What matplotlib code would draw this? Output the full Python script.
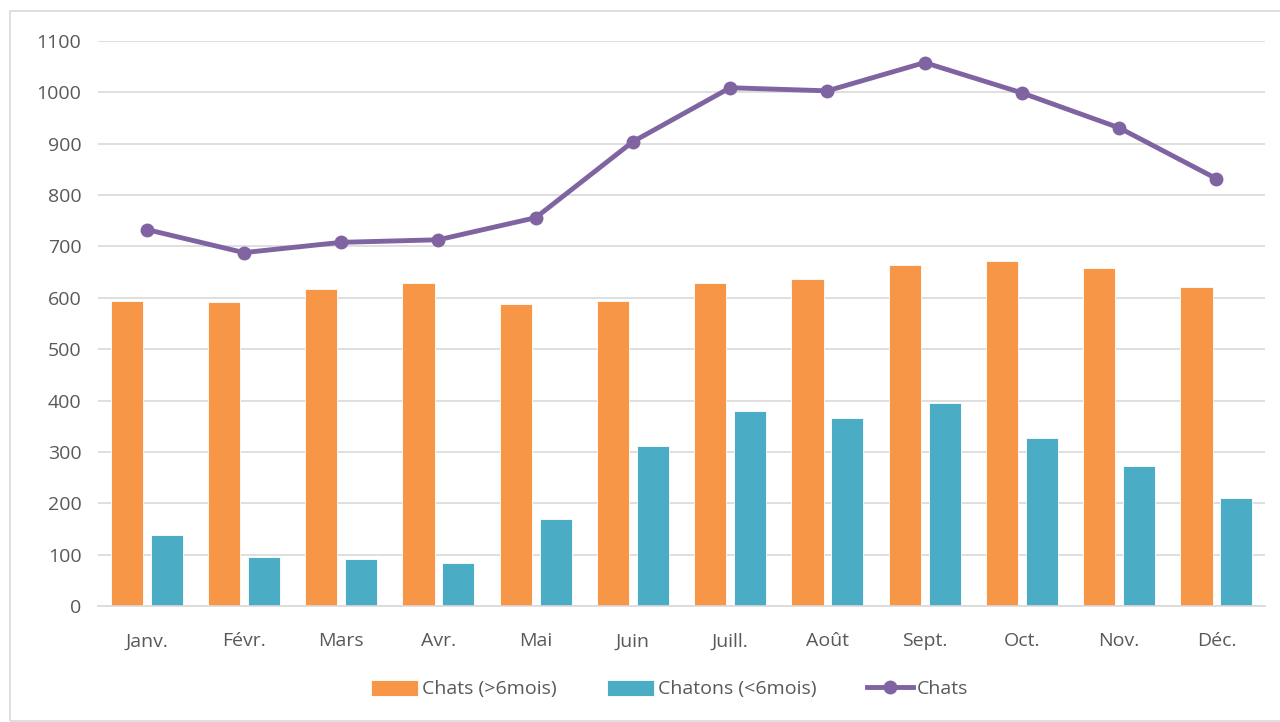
import matplotlib.pyplot as plt
import numpy as np
from matplotlib.patches import Rectangle

plt.rcParams['font.family'] = ['Open Sans', 'DejaVu Sans']

months = ["Janv.", "Févr.", "Mars", "Avr.", "Mai", "Juin", "Juill.", "Août", "Sept.", "Oct.", "Nov.", "Déc."]
chats_adultes = [594, 592, 617, 629, 587, 593, 629, 636, 663, 671, 658, 622]
chatons = [139, 96, 91, 84, 169, 311, 380, 366, 395, 328, 273, 210]
chats_total = [733, 688, 708, 713, 756, 904, 1009, 1003, 1058, 999, 931, 832]

text_col = "#595959"

fig = plt.figure(figsize=(12.8, 7.22), dpi=100)
ax = fig.add_axes([0.0766, 0.1607, 0.9117, 0.7825])

# cadre gris autour du graphique
fig.patches.append(Rectangle((10 / 1280, 0.002), 1275 / 1280, 1 - 12 / 722, transform=fig.transFigure,
                             fill=False, edgecolor="#D9D9D9", linewidth=1.2))

x = np.arange(len(months))
w = 0.33
b1 = ax.bar(x - 0.205, chats_adultes, w, color="#F79646", edgecolor="white", linewidth=0.6,
            label="Chats (>6mois)", zorder=2)
b2 = ax.bar(x + 0.205, chatons, w, color="#4BACC6", edgecolor="white", linewidth=0.6,
            label="Chatons (<6mois)", zorder=2)
l1, = ax.plot(x, chats_total, color="#8064A2", linewidth=3.5, marker="o", markersize=9,
              label="Chats", zorder=3)

ax.set_xlim(-0.5, len(months) - 0.5)
ax.set_ylim(0, 1100)
ax.set_yticks(range(0, 1101, 100))
ax.set_xticks(x)
ax.set_xticklabels(months)
ax.grid(axis="y", color="#D9D9D9", linewidth=1.2, zorder=0)
ax.set_axisbelow(True)
for s in ["top", "right", "left"]:
    ax.spines[s].set_visible(False)
ax.spines["bottom"].set_color("#D9D9D9")
ax.spines["bottom"].set_linewidth(1.2)
ax.tick_params(axis="both", length=0, labelsize=14, colors=text_col)
ax.tick_params(axis="x", pad=19)
ax.tick_params(axis="y", pad=12)

leg = ax.legend([b1, b2, l1], ["Chats (>6mois)", "Chatons (<6mois)", "Chats"],
                loc="center", bbox_to_anchor=(0.49, -0.147), ncol=3, frameon=False,
                fontsize=14, handlelength=2.4, handleheight=0.9, columnspacing=2.6,
                handletextpad=0.2)
for t in leg.get_texts():
    t.set_color(text_col)

fig.savefig("out.png", dpi=100)
